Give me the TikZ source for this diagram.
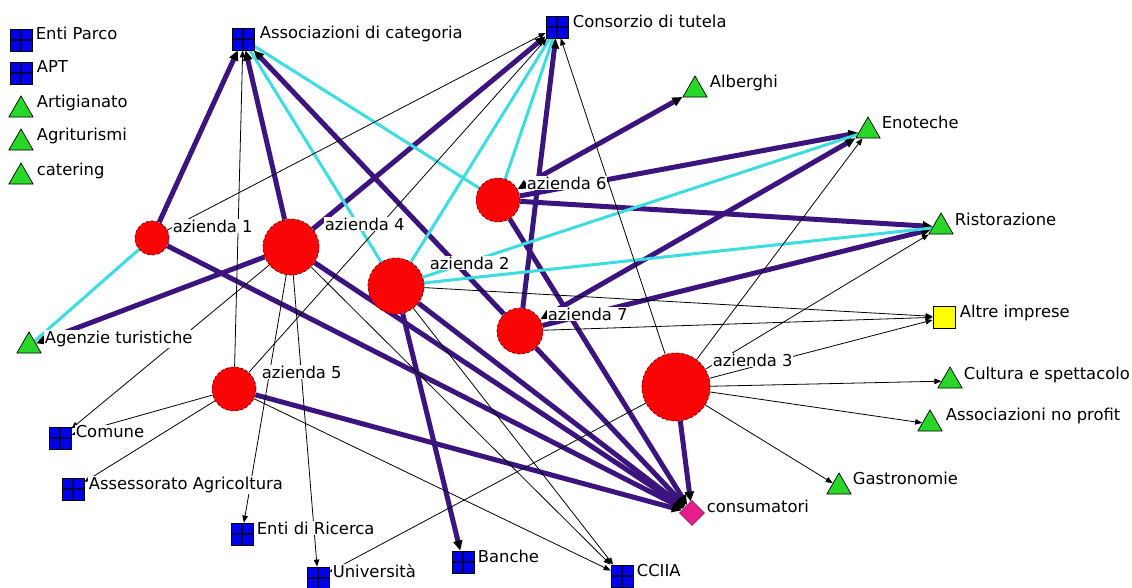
\documentclass[tikz,border=0pt]{standalone}
\usepackage{fontspec}
\setmainfont{DejaVu Sans}
\usetikzlibrary{shapes.geometric,arrows.meta}
\definecolor{nodeblue}{RGB}{0,0,235}
\definecolor{gridblue}{RGB}{0,0,70}
\definecolor{trigreen}{RGB}{40,215,40}
\definecolor{circred}{RGB}{250,5,5}
\definecolor{circedge}{RGB}{110,0,0}
\definecolor{thickp}{RGB}{60,20,125}
\definecolor{cyanl}{RGB}{60,220,225}
\definecolor{pinkd}{RGB}{230,30,140}
\definecolor{yel}{RGB}{255,255,0}
\pgfdeclarelayer{bg}
\pgfdeclarelayer{edges}
\pgfdeclarelayer{labels}
\pgfsetlayers{bg,edges,labels,main}
\tikzset{
  sq/.style={rectangle, draw=black, line width=0.8pt, fill=nodeblue, minimum size=22pt, inner sep=0pt,
    path picture={\draw[gridblue, line width=1.5pt] ([xshift=0pt]path picture bounding box.north) -- (path picture bounding box.south) (path picture bounding box.west) -- (path picture bounding box.east);}},
  ysq/.style={rectangle, draw=black, line width=0.8pt, fill=yel, minimum size=22pt, inner sep=0pt},
  tri/.style={regular polygon, regular polygon sides=3, draw=black, line width=0.7pt, fill=trigreen, minimum size=28pt, inner sep=0pt},
  dia/.style={diamond, draw=pinkd!70!black, line width=0.6pt, fill=pinkd, minimum size=25pt, inner sep=0pt},
  firm/.style={circle, draw=circedge, densely dashed, line width=0.7pt, fill=circred, inner sep=0pt},
  lbl/.style={anchor=base west, fill=white, inner sep=0.6pt, font=\fontsize{16.4}{16.4}\selectfont},
  thk/.style={draw=thickp, line width=5pt, -{Triangle[length=10pt,width=9pt,black]}},
  thkb/.style={draw=thickp, line width=5pt, {Triangle[length=10pt,width=9pt,black]}-{Triangle[length=10pt,width=9pt,black]}},
  thn/.style={draw=black, line width=0.8pt, -{Triangle[length=7pt,width=5.5pt]}},
  cyn/.style={draw=cyanl, line width=3pt},
}
\begin{document}
\begin{tikzpicture}[x=1pt,y=-1pt]
\useasboundingbox (0,0) rectangle (1132,587);
\begin{pgfonlayer}{bg}
\fill[white] (0,0) rectangle (1132,587);
\end{pgfonlayer}
% legend
\node[sq] (ep) at (21,40) {};
\node[sq] (apt) at (21,73) {};
\node[tri] (art) at (21,110) {};
\node[tri] (agr) at (21,143) {};
\node[tri] (cat) at (21,177) {};
% other nodes
\node[sq] (assoc) at (243,39) {};
\node[sq] (cons) at (557,27) {};
\node[tri] (alb) at (695,90) {};
\node[tri] (eno) at (868,131) {};
\node[tri] (ris) at (941,227) {};
\node[ysq] (altre) at (944,317) {};
\node[tri] (cult) at (950,381) {};
\node[tri] (anp) at (930,424) {};
\node[tri] (gas) at (839,487) {};
\node[dia] (consu) at (692,513) {};
\node[sq] (cciia) at (622,576) {};
\node[sq] (banche) at (463,562) {};
\node[sq] (univ) at (318,578) {};
\node[sq] (ricerca) at (242,534) {};
\node[sq] (assess) at (73,489) {};
\node[sq] (comune) at (60,438) {};
\node[tri] (agenzie) at (29,346) {};
% firms
\node[firm, minimum size=34pt] (a1) at (152,238) {};
\node[firm, minimum size=56pt] (a4) at (291,247) {};
\node[firm, minimum size=56pt] (a2) at (396,286) {};
\node[firm, minimum size=44pt] (a6) at (498,200) {};
\node[firm, minimum size=46pt] (a7) at (520,331) {};
\node[firm, minimum size=68pt] (a3) at (676,387) {};
\node[firm, minimum size=44pt] (a5) at (234,389) {};
\begin{pgfonlayer}{edges}
% thick
\draw[thk] (a1) -- (assoc);
\draw[thk] (a4) -- (assoc);
\draw[thk] (a7) -- (assoc);
\draw[thk] (a4) -- (cons);
\draw[thk] (a7) -- (cons);
\draw[thkb] (a6) -- (alb);
\draw[thk] (a6) -- (eno);
\draw[thkb] (a7) -- (eno);
\draw[thk] (a6) -- (ris);
\draw[thk] (a7) -- (ris);
\draw[thk] (a4) -- (agenzie);
\draw[thk] (a1) -- (consu);
\draw[thk] (a4) -- (consu);
\draw[thk] (a5) -- (consu);
\draw[thk] (a2) -- (consu);
\draw[thk] (a7) -- (consu);
\draw[thk] (a6) -- (consu);
\draw[thk] (a3) -- (consu);
\draw[thk] (a2) -- (banche);
% cyan
\draw[cyn] (a2) -- (assoc);
\draw[cyn] (a6) -- (assoc);
\draw[cyn] (a2) -- (cons);
\draw[cyn] (a6) -- (cons);
\draw[cyn] (a2) -- (eno);
\draw[cyn] (a2) -- (ris);
\draw[cyn] (a1) -- (agenzie);
% thin
\draw[thn] (a5) -- (assoc);
\draw[thn] (a1) -- (cons);
\draw[thn] (a5) -- (cons);
\draw[thn] (a3) -- (cons);
\draw[thn] (a3) -- (eno);
\draw[thn] (a3) -- (ris);
\draw[thn] (a3) -- (altre);
\draw[thn] (a2) -- (altre);
\draw[thn] (a7) -- (altre);
\draw[thn] (a3) -- (cult);
\draw[thn] (a3) -- (anp);
\draw[thn] (a3) -- (gas);
\draw[thn] (a3) -- (univ);
\draw[thn] (a4) -- (univ);
\draw[thn] (a4) -- (ricerca);
\draw[thn] (a4) -- (comune);
\draw[thn] (a5) -- (comune);
\draw[thn] (a5) -- (assess);
\draw[thn] (a4) -- (cciia);
\draw[thn] (a2) -- (cciia);
\draw[thn] (a5) -- (cciia);
\end{pgfonlayer}
\begin{pgfonlayer}{labels}
\node[lbl] (l-ep) at (35,39.5) {Enti Parco};
\node[lbl] (l-apt) at (36,72.5) {APT};
\node[lbl] (l-art) at (36,107.5) {Artigianato};
\node[lbl] (l-agr) at (36,140.5) {Agriturismi};
\node[lbl] (l-cat) at (36,175) {catering};
\node[lbl] (l-assoc) at (259,38.5) {Associazioni di categoria};
\node[lbl] (l-cons) at (572,27) {Consorzio di tutela};
\node[lbl] (l-alb) at (709,87) {Alberghi};
\node[lbl] (l-eno) at (881,128.5) {Enoteche};
\node[lbl] (l-ris) at (954,225) {Ristorazione};
\node[lbl] (l-altre) at (959,317.5) {Altre imprese};
\node[lbl] (l-cult) at (963,379.5) {Cultura e spettacolo};
\node[lbl] (l-anp) at (945,420.5) {Associazioni no profit};
\node[lbl] (l-gas) at (852,484) {Gastronomie};
\node[lbl] (l-consu) at (706,512.5) {consumatori};
\node[lbl] (l-cciia) at (636,576) {CCIIA};
\node[lbl] (l-banche) at (477,562.5) {Banche};
\node[lbl] (l-univ) at (332,577.5) {Università};
\node[lbl] (l-ricerca) at (256,534.5) {Enti di Ricerca};
\node[lbl] (l-assess) at (88,489.5) {Assessorato Agricoltura};
\node[lbl] (l-comune) at (75,437.5) {Comune};
\node[lbl] (l-agenzie) at (44,343.5) {Agenzie turistiche};
\node[lbl] (l-a1) at (172,232.5) {azienda 1};
\node[lbl] (l-a4) at (324,230) {azienda 4};
\node[lbl] (l-a2) at (429,269.5) {azienda 2};
\node[lbl] (l-a6) at (526,189.5) {azienda 6};
\node[lbl] (l-a7) at (547,320) {azienda 7};
\node[lbl] (l-a3) at (712,366) {azienda 3};
\node[lbl] (l-a5) at (261,378) {azienda 5};
\end{pgfonlayer}
\end{tikzpicture}
\end{document}
